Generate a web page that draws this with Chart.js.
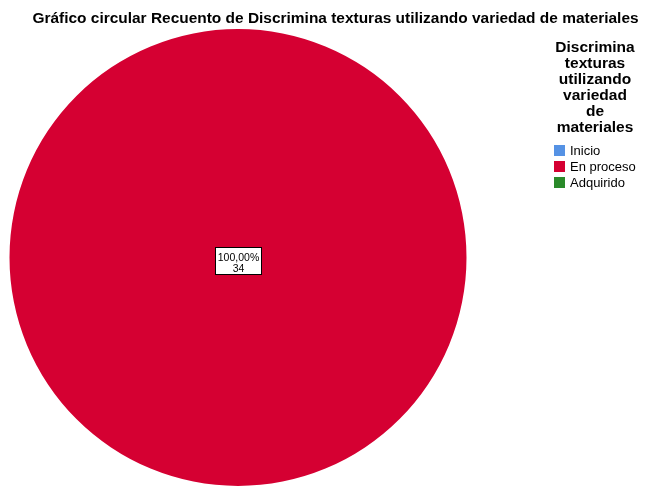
<!DOCTYPE html>
<html>
<head>
<meta charset="utf-8">
<script src="https://cdn.jsdelivr.net/npm/chart.js@4/dist/chart.umd.min.js"></script>
<style>
  html, body { margin: 0; padding: 0; background: #fff; }
  #wrap { position: relative; width: 646px; height: 486px; overflow: hidden; font-family: "Liberation Sans", Arial, sans-serif; }
  #c { position: absolute; left: 0; top: 0; }
  #title { position: absolute; left: 0; top: 9px; width: 671px; text-align: center; font-weight: bold; font-size: 15px; line-height: 18px; color: #000; white-space: nowrap; transform: scaleX(1.03); transform-origin: 335px 0; }
  #legTitle { position: absolute; left: 537px; top: 39px; width: 116px; text-align: center; font-weight: bold; font-size: 15.5px; line-height: 16px; color: #000; }
  #legItems { position: absolute; left: 554px; top: 144px; font-size: 13px; color: #000; }
  .li { height: 16px; line-height: 13px; white-space: nowrap; position: relative; }
  .sw { display: inline-block; width: 11px; height: 11px; vertical-align: -1px; margin-right: 5px; }
</style>
</head>
<body>
<div id="wrap">
  <canvas id="c" width="646" height="486"></canvas>
  <div id="title"></div>
  <div id="legTitle"></div>
  <div id="legItems"></div>
</div>
<script>
const chartTitle = "Gráfico circular Recuento de Discrimina texturas utilizando variedad de materiales";
const legendTitleLines = ["Discrimina", "texturas", "utilizando", "variedad", "de", "materiales"];
const categories = ["Inicio", "En proceso", "Adquirido"];
const counts = [0, 34, 0];
const colors = ["#5592E4", "#D50032", "#2A8A2A"];

document.getElementById("title").textContent = chartTitle;
document.getElementById("legTitle").innerHTML = legendTitleLines.map(s => s.replace(/&/g,"&amp;").replace(/</g,"&lt;")).join("<br>");
const li = document.getElementById("legItems");
categories.forEach((c, i) => {
  const d = document.createElement("div");
  d.className = "li";
  const s = document.createElement("span");
  s.className = "sw";
  s.style.background = colors[i];
  d.appendChild(s);
  d.appendChild(document.createTextNode(c));
  li.appendChild(d);
});

const total = counts.reduce((a, b) => a + b, 0);

const labelPlugin = {
  id: "sliceLabels",
  afterDatasetsDraw(chart) {
    const ctx = chart.ctx;
    const meta = chart.getDatasetMeta(0);
    meta.data.forEach((arc, i) => {
      const v = counts[i];
      if (!v) return;
      const pct = (v / total * 100).toFixed(2).replace(".", ",") + "%";
      let px, py;
      if (v === total) { px = arc.x; py = arc.y; }
      else { const p = arc.tooltipPosition(); px = p.x; py = p.y; }
      ctx.save();
      ctx.font = "10.5px 'Liberation Sans', Arial, sans-serif";
      const w = 46;
      const h = 27;
      const bx = Math.round(px - 23) + 0.5, by = Math.round(py - 11) + 0.5;
      ctx.fillStyle = "#fff";
      ctx.fillRect(bx, by, w, h);
      ctx.strokeStyle = "#000";
      ctx.lineWidth = 1;
      ctx.strokeRect(bx, by, w, h);
      ctx.fillStyle = "#000";
      ctx.textAlign = "center";
      ctx.textBaseline = "alphabetic";
      ctx.fillText(pct, bx + w / 2, by + 13);
      ctx.fillText(String(v), bx + w / 2, by + 24);
      ctx.restore();
    });
  }
};

new Chart(document.getElementById("c"), {
  type: "pie",
  data: {
    labels: categories,
    datasets: [{ data: counts, backgroundColor: colors, borderWidth: 0 }]
  },
  options: {
    responsive: false,
    animation: false,
    layout: { padding: { left: 9, right: 179, top: 29, bottom: 0 } },
    plugins: { legend: { display: false }, title: { display: false }, tooltip: { enabled: false } }
  },
  plugins: [labelPlugin]
});
</script>
</body>
</html>
